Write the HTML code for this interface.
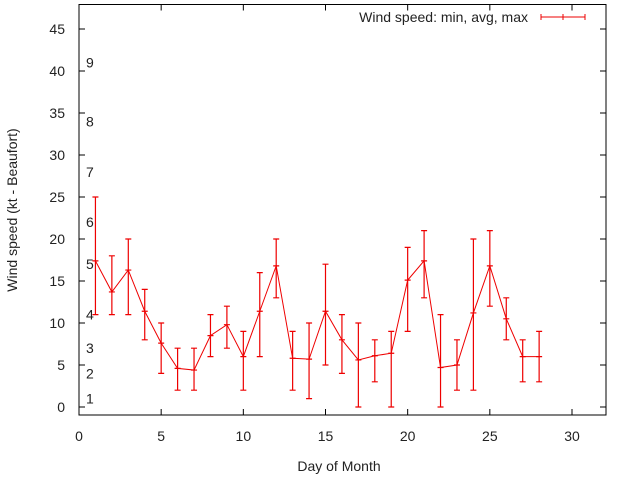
<!DOCTYPE html>
<html><head><meta charset="utf-8"><style>
body{margin:0;background:#fff;}
svg{display:block;font-family:"Liberation Sans",sans-serif;}
</style></head><body>
<svg id="chart" width="640" height="480">
<rect x="0" y="0" width="640" height="480" fill="#fff"/>
<g id="axes"></g>
<g id="bft"></g>
<g id="series"></g>
<rect x="79" y="4.5" width="527" height="410.5" fill="none" stroke="#000" stroke-width="1"/>
<text x="17" y="210" transform="rotate(-90 17 210)" text-anchor="middle" font-size="14" fill="#222">Wind speed (kt - Beaufort)</text>
<text x="339" y="471" text-anchor="middle" font-size="14" fill="#222">Day of Month</text>
<g>
<text x="528" y="22" text-anchor="end" font-size="14" fill="#222">Wind speed: min, avg, max</text>
<path d="M541 17H585M541 14V20M585 14V20M563 14V20" stroke="#e00" stroke-width="1" fill="none"/>
</g>
</svg>
<script>
const days=[1,2,3,4,5,6,7,8,9,10,11,12,13,14,15,16,17,18,19,20,21,22,23,24,25,26,27,28];
const avgs=[17.4,13.7,16.3,11.4,7.6,4.6,4.4,8.5,9.8,6,11.4,16.8,5.8,5.7,11.4,8,5.6,6.1,6.4,15.1,17.4,4.7,5,11.2,16.8,10.5,6,6];
const mins=[11,11,11,8,4,2,2,6,7,2,6,13,2,1,5,4,0,3,0,9,13,0,2,2,12,8,3,3];
const maxs=[25,18,20,14,10,7,7,11,12,9,16,20,9,10,17,11,10,8,9,19,21,11,8,20,21,13,8,9];
const xTicks=[0,5,10,15,20,25,30];
const yTicks=[0,5,10,15,20,25,30,35,40,45];
const bftLevels=[1,4,7,11,17,22,28,34,41];
const bftLabels=["1","2","3","4","5","6","7","8","9"];
const NS="http://www.w3.org/2000/svg";
const X=v=>79+v*(493/30);
const Y=v=>407-v*(378/45);
function mk(tag,attrs,parent){const e=document.createElementNS(NS,tag);for(const k in attrs)e.setAttribute(k,attrs[k]);parent.appendChild(e);return e;}
const axes=document.getElementById('axes');
xTicks.forEach(t=>{
  const x=X(t);
  const p=mk('path',{d:`M${x} 415V409M${x} 4.5V10.5`,stroke:'#000','stroke-width':1},axes);
  
  
  const tx=mk('text',{x:x,y:441,'text-anchor':'middle','font-size':14,fill:'#222'},axes);
  tx.textContent=t;
  
  
});
yTicks.forEach(t=>{
  const y=Y(t);
  const p=mk('path',{d:`M79 ${y}H85M606 ${y}H600`,stroke:'#000','stroke-width':1},axes);
  
  
  const tx=mk('text',{x:65,y:y+5,'text-anchor':'end','font-size':14,fill:'#222'},axes);
  tx.textContent=t;
  
  
});
const bft=document.getElementById('bft');
bftLevels.forEach((v,i)=>{
  const tx=mk('text',{x:86,y:Y(v)+5,'font-size':14,fill:'#222'},bft);
  tx.textContent=bftLabels[i];
  
  
});
const s=document.getElementById('series');
const line=mk('polyline',{points:days.map((d,i)=>X(d)+','+Y(avgs[i])).join(' '),fill:'none',stroke:'#e00','stroke-width':1},s);


days.forEach((d,i)=>{
  const x=X(d),y0=Y(mins[i]),y1=Y(maxs[i]),ya=Y(avgs[i]);
  const p=mk('path',{d:`M${x} ${y0}V${y1}M${x-3} ${y0}H${x+3}M${x-3} ${y1}H${x+3}M${x-3} ${ya}H${x+3}`,stroke:'#e00','stroke-width':1.2,fill:'none'},s);
  
  
});
</script>
</body></html>
